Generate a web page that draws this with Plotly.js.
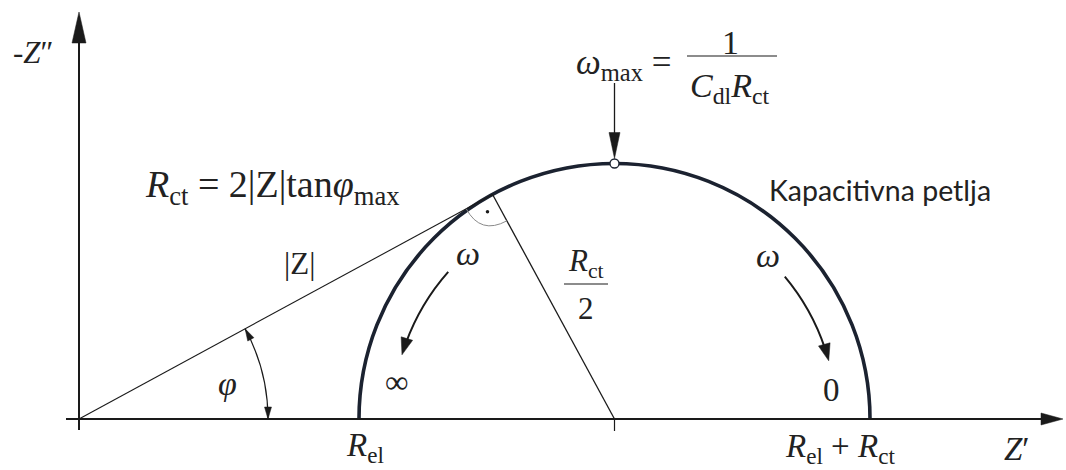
<!DOCTYPE html>
<html>
<head>
<meta charset="utf-8">
<script src="https://cdn.plot.ly/plotly-3.0.1.min.js"></script>
<style>body{margin:0;background:#fff}#nyq{width:1066px;height:470px}</style>
</head>
<body>
<div id="nyq"></div>
<script>
// Nyquist plot, simple cell: electrolyte resistance in series with Rct || Cdl
// values (arbitrary units, origin at the corner of the axes)
var Rel = 28.0;
var Rct = 51.1;
var tickVals = [Rel, Rel + Rct];
var tickText = ['<i>R</i><sub>el</sub>', '<i>R</i><sub>el</sub> + <i>R</i><sub>ct</sub>'];

// derived geometry of the loop
var cx = Rel + Rct / 2, rad = Rct / 2;
var phiMax = Math.asin(rad / cx);
var zLen = Math.sqrt(cx * cx - rad * rad);
var T = [zLen * Math.cos(phiMax), zLen * Math.sin(phiMax)];   // tangent point, |Z| at phi max

var ink = '#1a1a1a';
var loopColor = '#1b2230';
var serif = 'Liberation Serif, Times New Roman, serif';

function seg(x0, y0, x1, y1, w, color) {
  return {type: 'line', x0: x0, y0: y0, x1: x1, y1: y1, line: {color: color || ink, width: w}};
}
function deg(a) { return a * Math.PI / 180; }
// circular arc as one quadratic curve (spans < 40 deg)
function arc(x, y, r, a0, a1, w, color) {
  var m = (a0 + a1) / 2, k = r / Math.cos(deg(a1 - a0) / 2);
  var p = 'M' + (x + r * Math.cos(deg(a0))) + ',' + (y + r * Math.sin(deg(a0))) +
          ' Q' + (x + k * Math.cos(deg(m))) + ',' + (y + k * Math.sin(deg(m))) +
          ' ' + (x + r * Math.cos(deg(a1))) + ',' + (y + r * Math.sin(deg(a1)));
  return {type: 'path', path: p, line: {color: color || ink, width: w}};
}
// filled arrow head, tip at (x, y), pointing along angle a (deg), sizes in px
function head(x, y, a, len, hw) {
  var c = Math.cos(deg(a)), s = Math.sin(deg(a));
  var bx = -len * c, by = -len * s;
  var p = 'M0,0 L' + (bx - hw * s) + ',' + (by + hw * c) + ' L' + (bx + hw * s) + ',' + (by - hw * c) + ' Z';
  return {type: 'path', xsizemode: 'pixel', ysizemode: 'pixel', xanchor: x, yanchor: y,
          path: p, fillcolor: ink, line: {color: ink, width: 0.5}};
}
function label(x, y, text, size, extra) {
  var a = {x: x, y: y, xref: 'x', yref: 'y', text: text, showarrow: false,
           font: {family: serif, size: size, color: '#222'}};
  for (var k in extra) a[k] = extra[k];
  return a;
}

// right angle mark at the tangent point
var d1 = [-Math.cos(phiMax), -Math.sin(phiMax)];
var d2 = [(cx - T[0]) / rad, -T[1] / rad];
var ra = 3.0;
var rightMark = {type: 'path', line: {color: '#8a8a8a', width: 1},
  path: 'M' + (T[0] + ra * d1[0]) + ',' + (T[1] + ra * d1[1]) +
        ' Q' + (T[0] + ra * (d1[0] + d2[0])) + ',' + (T[1] + ra * (d1[1] + d2[1])) +
        ' ' + (T[0] + ra * d2[0]) + ',' + (T[1] + ra * d2[1])};

var phiDeg = phiMax * 180 / Math.PI;
var shapes = [
  // the capacitive loop: full circle, lower half masked
  {type: 'circle', layer: 'below', x0: Rel, x1: Rel + Rct, y0: -rad, y1: rad,
   line: {color: loopColor, width: 3.6}},
  {type: 'rect', layer: 'below', x0: Rel - 2, x1: Rel + Rct + 2, y0: -rad - 2, y1: 0,
   fillcolor: '#fff', line: {width: 0}},
  // axes
  seg(-1.3, 0, 96.5, 0, 2),
  head(98.4, 0, 0, 22, 6),
  seg(0, -1.1, 0, 38.5, 2),
  head(0, 40.7, 90, 31, 7),
  seg(cx, 0, cx, -1.2, 1.2),
  // |Z| and radius
  seg(0, 0, T[0], T[1], 1.1),
  seg(cx, 0, T[0], T[1], 1.3),
  rightMark,
  // phi arc
  arc(0, 0, 18.9, 0, phiDeg, 1.2),
  head(18.9, 0, -90, 12, 3.5),
  head(18.9 * Math.cos(phiMax), 18.9 * Math.sin(phiMax), phiDeg + 90, 12, 3.5),
  // omega arrows along the loop
  arc(cx, 0, 22.2, 138.5, 160, 2),
  head(cx + 22.2 * Math.cos(deg(163.2)), 22.2 * Math.sin(deg(163.2)), 253.2, 17, 6),
  arc(cx, 0, 22.2, 39.9, 18.5, 2),
  head(cx + 22.2 * Math.cos(deg(15.2)), 22.2 * Math.sin(deg(15.2)), -74.8, 17, 6),
  // omega max pointer
  seg(cx, 33.6, cx, 28, 1.3),
  head(cx, rad + 0.5, -90, 26, 5.5),
  // fraction bars
  seg(60.8, 36.3, 69.8, 36.3, 1.2),
  seg(48.5, 13.5, 52.9, 13.5, 1.2)
];

var traces = [
  {x: [cx], y: [rad], mode: 'markers', hoverinfo: 'skip',
   marker: {symbol: 'circle', size: 9, color: '#fff', line: {color: loopColor, width: 1.3}}},
  {x: [T[0] + 1.8 * (d1[0] + d2[0]) / 1.414], y: [T[1] + 1.8 * (d1[1] + d2[1]) / 1.414],
   mode: 'markers', hoverinfo: 'skip', marker: {size: 3.5, color: ink}}
];

var annotations = [
  label(-4.6, 36.7, '-<i>Z</i>″', 31),
  label(6.4, 23.2, '<i>R</i><sub>ct</sub> = 2|Z|tan<i>φ</i><sub>max</sub>', 38, {xanchor: 'left'}),
  label(22.0, 15.6, '|Z|', 31),
  label(14.8, 3.6, '<i>φ</i>', 34),
  label(38.9, 16.6, '<i>ω</i>', 34),
  label(68.9, 16.4, '<i>ω</i>', 34),
  label(31.8, 3.7, '∞', 33),
  label(75.2, 2.9, '0', 33),
  label(tickVals[0] + 0.6, -2.8, tickText[0], 33),
  label(tickVals[1] - 3.0, -2.9, tickText[1], 33),
  label(93.8, -3.0, '<i>Z</i>′', 33),
  label(50.7, 15.6, '<i>R</i><sub>ct</sub>', 31),
  label(50.7, 11.1, '2', 31),
  label(49.5, 35.5, '<i>ω</i><sub>max</sub> =', 35, {xanchor: 'left'}),
  label(65.1, 37.7, '1', 34),
  label(65.1, 33.1, '<i>C</i><sub>dl</sub><i>R</i><sub>ct</sub>', 34),
  {x: 68.8, y: 22.9, xref: 'x', yref: 'y', xanchor: 'left', showarrow: false,
   text: 'Kapacitivna petlja', font: {family: 'Lato, Open Sans, sans-serif', size: 28.5, color: '#222'}}
];

var layout = {
  width: 1066, height: 470,
  margin: {l: 0, r: 0, t: 0, b: 0},
  paper_bgcolor: '#fff', plot_bgcolor: '#fff',
  showlegend: false,
  xaxis: {range: [-7.9, 98.7], visible: false, fixedrange: true},
  yaxis: {range: [-5.1, 41.9], visible: false, fixedrange: true},
  shapes: shapes,
  annotations: annotations
};

Plotly.newPlot('nyq', traces, layout, {staticPlot: true});
</script>
</body>
</html>
